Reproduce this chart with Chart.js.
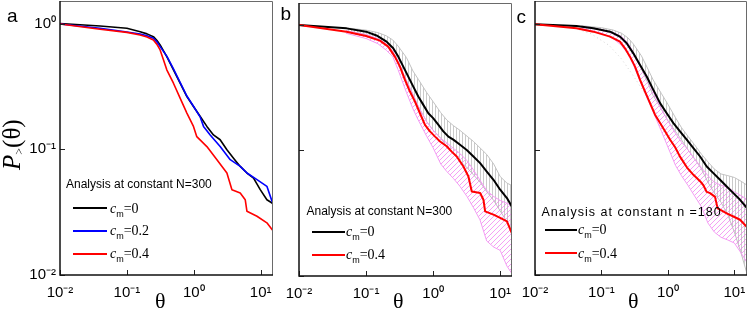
<!DOCTYPE html>
<html><head><meta charset="utf-8">
<script src="https://cdn.jsdelivr.net/npm/chart.js@4.4.1/dist/chart.umd.min.js"></script>
<style>
html,body{margin:0;padding:0;background:#fff;}
#wrap{position:relative;width:748px;height:312px;overflow:hidden;background:#fff;}
canvas{position:absolute;left:0;top:0;}
.t{position:absolute;white-space:nowrap;line-height:1;color:#000;z-index:5;}
.sans{font-family:"Liberation Sans",Arial,sans-serif;}
.serif{font-family:"Liberation Serif","Times New Roman",serif;}
.lg{position:absolute;height:2px;z-index:5;}
.sub{font-family:"Liberation Sans",Arial,sans-serif;font-size:9px;position:relative;top:4px;font-style:normal;}
</style></head>
<body><div id="wrap">
<canvas id="ca" width="748" height="312"></canvas>
<canvas id="cb" width="748" height="312"></canvas>
<canvas id="cc" width="748" height="312"></canvas>

<div class="t sans" style="left:7px;top:5.6px;font-size:19px;">a</div>
<div class="t sans" style="left:280.5px;top:3.9px;font-size:19px;">b</div>
<div class="t sans" style="left:516.5px;top:7.2px;font-size:19px;">c</div>

<div class="t serif" style="left:-1px;top:170px;font-size:25px;transform:rotate(-90deg);transform-origin:left top;"><i>P</i><span style="font-size:12px;position:relative;top:3px;">&gt;</span>(θ)</div>

<div class="t serif" style="left:155px;top:289.6px;font-size:22px;">θ</div>
<div class="t serif" style="left:393px;top:289.6px;font-size:22px;">θ</div>
<div class="t serif" style="left:628px;top:289.6px;font-size:22px;">θ</div>

<div class="t sans" style="left:66px;top:178.3px;font-size:12px;">Analysis at constant N=300</div>
<div class="t sans" style="left:306.5px;top:205.3px;font-size:12px;">Analysis at constant N=300</div>
<div class="t sans" style="left:541.5px;top:205.8px;font-size:12.5px;letter-spacing:1px;">Analysis at constant n =180</div>

<div class="lg" style="left:73px;top:207.3px;width:34px;background:#000;"></div>
<div class="t serif" style="left:110px;top:201.6px;font-size:14px;"><i>c</i><span class="sub">m</span>=0</div>
<div class="lg" style="left:73px;top:229.7px;width:34px;background:#0000ff;"></div>
<div class="t serif" style="left:110px;top:224px;font-size:14px;"><i>c</i><span class="sub">m</span>=0.2</div>
<div class="lg" style="left:73px;top:253px;width:34px;background:#ff0000;"></div>
<div class="t serif" style="left:110px;top:247.3px;font-size:14px;"><i>c</i><span class="sub">m</span>=0.4</div>

<div class="lg" style="left:311.7px;top:230.7px;width:33.3px;background:#000;"></div>
<div class="t serif" style="left:346px;top:225px;font-size:14px;"><i>c</i><span class="sub">m</span>=0</div>
<div class="lg" style="left:311.7px;top:254px;width:33.3px;background:#ff0000;"></div>
<div class="t serif" style="left:346px;top:248.3px;font-size:14px;"><i>c</i><span class="sub">m</span>=0.4</div>

<div class="lg" style="left:545px;top:229px;width:31.7px;background:#000;"></div>
<div class="t serif" style="left:578px;top:223.3px;font-size:14px;"><i>c</i><span class="sub">m</span>=0</div>
<div class="lg" style="left:545px;top:252.3px;width:31.7px;background:#ff0000;"></div>
<div class="t serif" style="left:578px;top:246.6px;font-size:14px;"><i>c</i><span class="sub">m</span>=0.4</div>
</div>
<script>
// ---------- tick labels ----------
const X_TICKS = [0.01, 0.1, 1, 10];
const X_TICK_LABELS = ['10⁻²', '10⁻¹', '10⁰', '10¹'];
const Y_TICKS = [0.01, 0.1, 1];
const Y_TICK_LABELS = ['10⁻²', '10⁻¹', '10⁰'];

// ---------- panel a (constant N=300) ----------
const aTheta0 = [0.01, 0.0397, 0.1, 0.158, 0.2, 0.249, 0.28, 0.314, 0.395, 0.497, 0.625, 0.789, 0.99, 1.25, 1.57, 1.97, 2.48, 3.13, 3.93, 4.95, 6.24, 7.83, 9.86, 12.4, 14.8, 15.6];
const aP0     = [1.0, 0.955, 0.916, 0.861, 0.827, 0.786, 0.735, 0.675, 0.545, 0.428, 0.335, 0.262, 0.219, 0.182, 0.152, 0.130, 0.119, 0.099, 0.085, 0.073, 0.0647, 0.059, 0.0477, 0.0397, 0.0374, 0.036];
const aTheta2 = [0.01, 0.0397, 0.1, 0.158, 0.2, 0.249, 0.28, 0.314, 0.395, 0.497, 0.625, 0.789, 0.99, 1.25, 1.40, 1.76, 2.48, 3.51, 4.95, 6.24, 8.81, 12.4, 14.8, 15.6];
const aP2     = [0.99, 0.916, 0.856, 0.826, 0.80, 0.763, 0.715, 0.655, 0.55, 0.435, 0.34, 0.265, 0.22, 0.18, 0.152, 0.130, 0.105, 0.0826, 0.073, 0.0647, 0.0573, 0.0507, 0.0385, 0.037];
const aTheta4 = [0.01, 0.0397, 0.1, 0.158, 0.2, 0.249, 0.28, 0.314, 0.35, 0.395, 0.497, 0.625, 0.789, 0.99, 1.11, 1.57, 2.22, 3.13, 3.72, 4.95, 5.88, 6.24, 8.81, 12.4, 14.8, 15.6];
const aP4     = [0.99, 0.90, 0.85, 0.81, 0.78, 0.74, 0.685, 0.616, 0.52, 0.428, 0.335, 0.255, 0.194, 0.152, 0.126, 0.105, 0.0826, 0.0647, 0.0477, 0.0449, 0.0397, 0.0321, 0.0293, 0.026, 0.023, 0.0225];

// ---------- panel b (constant N=300, with spread) ----------
const bTheta0 = [0.01, 0.051, 0.1, 0.143, 0.202, 0.254, 0.302, 0.359, 0.426, 0.506, 0.601, 0.714, 0.848, 1.0, 1.2, 1.42, 1.69, 2.0, 2.52, 3.17, 3.99, 5.02, 6.31, 7.94, 10, 12.6, 14.9, 15.6];
const bP0     = [1.0, 0.94, 0.885, 0.825, 0.737, 0.652, 0.56, 0.466, 0.388, 0.323, 0.269, 0.231, 0.198, 0.181, 0.16, 0.142, 0.129, 0.122, 0.111, 0.101, 0.0896, 0.0793, 0.068, 0.0584, 0.0487, 0.0418, 0.0358, 0.035];
const bTheta4 = [0.01, 0.051, 0.1, 0.161, 0.214, 0.269, 0.32, 0.38, 0.451, 0.536, 0.636, 0.756, 0.897, 1.07, 1.27, 1.59, 1.89, 2.25, 2.83, 3.36, 3.77, 5.02, 5.63, 5.96, 7.94, 10, 12.6, 14.9, 15.6];
const bP4     = [1.0, 0.885, 0.818, 0.75, 0.673, 0.56, 0.466, 0.365, 0.295, 0.245, 0.198, 0.16, 0.142, 0.129, 0.118, 0.108, 0.098, 0.0896, 0.0746, 0.0621, 0.0472, 0.0458, 0.0405, 0.0327, 0.0308, 0.029, 0.0272, 0.022, 0.021];
const bandTheta = [0.05, 0.1, 0.15, 0.2, 0.25, 0.3, 0.4, 0.5, 0.6, 0.8, 1, 1.3, 1.6, 2, 2.5, 3.2, 4, 5, 6.3, 8, 10, 12.6, 15.6];
const bGrayUp = [0.95, 0.91, 0.87, 0.82, 0.76, 0.68, 0.55, 0.43, 0.37, 0.29, 0.245, 0.2, 0.175, 0.158, 0.145, 0.13, 0.118, 0.105, 0.093, 0.078, 0.062, 0.055, 0.052];
const bGrayLo = [0.90, 0.84, 0.77, 0.69, 0.6, 0.5, 0.36, 0.28, 0.225, 0.17, 0.145, 0.125, 0.108, 0.095, 0.083, 0.073, 0.064, 0.056, 0.047, 0.04, 0.033, 0.027, 0.022];
const bPinkUp = [0.90, 0.84, 0.78, 0.71, 0.62, 0.52, 0.36, 0.28, 0.225, 0.17, 0.145, 0.125, 0.115, 0.104, 0.095, 0.083, 0.07, 0.058, 0.048, 0.043, 0.04, 0.038, 0.036];
const bPinkLo = [0.86, 0.78, 0.71, 0.63, 0.56, 0.44, 0.29, 0.215, 0.175, 0.13, 0.105, 0.078, 0.068, 0.06, 0.052, 0.043, 0.035, 0.028, 0.019, 0.017, 0.016, 0.012, 0.0101];

// ---------- panel c (constant n=180, with spread) ----------
const cTheta0 = [0.01, 0.042, 0.0755, 0.135, 0.19, 0.24, 0.302, 0.381, 0.48, 0.604, 0.762, 0.96, 1.21, 1.52, 1.92, 2.42, 3.05, 3.84, 4.83, 6.09, 7.67, 9.66, 12.2, 15.6];
const cP0     = [1.0, 0.97, 0.929, 0.874, 0.798, 0.706, 0.587, 0.474, 0.383, 0.30, 0.235, 0.195, 0.163, 0.14, 0.12, 0.103, 0.0882, 0.0734, 0.065, 0.0575, 0.0509, 0.045, 0.0398, 0.034];
const cTheta4 = [0.01, 0.042, 0.0755, 0.135, 0.19, 0.226, 0.269, 0.32, 0.381, 0.453, 0.538, 0.64, 0.762, 0.906, 1.08, 1.28, 1.52, 1.94, 2.42, 3.05, 3.42, 3.84, 4.31, 5.12, 5.6, 6.09, 7.67, 9.66, 12.2, 15.6];
const cP4     = [1.0, 0.929, 0.874, 0.798, 0.728, 0.644, 0.552, 0.46, 0.36, 0.29, 0.235, 0.19, 0.163, 0.14, 0.12, 0.105, 0.088, 0.072, 0.063, 0.056, 0.052, 0.046, 0.045, 0.042, 0.034, 0.0332, 0.031, 0.0293, 0.0276, 0.024];
const cGrayUp = [0.975, 0.94, 0.9, 0.85, 0.78, 0.70, 0.56, 0.44, 0.36, 0.28, 0.23, 0.18, 0.15, 0.128, 0.11, 0.092, 0.08, 0.07, 0.064, 0.062, 0.06, 0.056, 0.052];
const cGrayLo = [0.95, 0.9, 0.84, 0.77, 0.68, 0.58, 0.44, 0.34, 0.27, 0.21, 0.17, 0.14, 0.12, 0.1, 0.085, 0.07, 0.055, 0.045, 0.038, 0.03, 0.022, 0.015, 0.0101];
const cPinkUp = [0.96, 0.91, 0.86, 0.8, 0.71, 0.6, 0.45, 0.36, 0.29, 0.21, 0.17, 0.135, 0.115, 0.1, 0.085, 0.072, 0.062, 0.055, 0.052, 0.05, 0.046, 0.043, 0.04];
const cPinkLo = [0.93, 0.85, 0.77, 0.68, 0.58, 0.48, 0.33, 0.25, 0.2, 0.14, 0.105, 0.075, 0.062, 0.052, 0.043, 0.035, 0.026, 0.022, 0.02, 0.019, 0.018, 0.015, 0.0125];
const cDotTheta = [0.04, 0.07, 0.13, 0.2, 0.3, 0.45, 0.7, 1.0];
const cDotP     = [0.93, 0.84, 0.68, 0.53, 0.39, 0.28, 0.19, 0.14];

// ---------- helpers ----------
function pts(xs, ys) { return xs.map((x, i) => ({x: x, y: ys[i]})); }
function labeler(vals, labels) {
  return function (v) {
    const i = vals.findIndex(t => Math.abs(Math.log10(t) - Math.log10(v)) < 1e-6);
    return i < 0 ? null : labels[i];
  };
}
function hatch(ctx, kind) {
  const c = document.createElement('canvas');
  const g = c.getContext('2d');
  if (kind === 'v') {
    c.width = 3; c.height = 4;
    g.fillStyle = 'rgba(150,150,150,0.5)';
    g.fillRect(0, 0, 1, 4);
  } else {
    c.width = 5; c.height = 5;
    g.strokeStyle = 'rgba(240,120,240,0.7)';
    g.lineWidth = 1;
    g.beginPath();
    g.moveTo(0, 5); g.lineTo(5, 0);
    g.moveTo(-1, 1); g.lineTo(1, -1);
    g.moveTo(4, 6); g.lineTo(6, 4);
    g.stroke();
  }
  return ctx.createPattern(c, 'repeat');
}
const framePlugin = {
  id: 'frame',
  afterDraw(chart) {
    const ctx = chart.ctx, a = chart.chartArea, xs = chart.scales.x, ys = chart.scales.y;
    ctx.save();
    ctx.strokeStyle = '#222';
    ctx.lineWidth = 1;
    function mant(v) {
      const e = Math.floor(Math.log10(v) + 1e-9);
      const m = v / Math.pow(10, e);
      const r = Math.round(m);
      return Math.abs(m - r) < 1e-6 ? r : 0;
    }
    ctx.beginPath();
    xs.ticks.forEach(t => {
      const m = mant(t.value); if (!m) return;
      const px = Math.round(xs.getPixelForValue(t.value)) + 0.5;
      const len = m === 1 ? 5 : 3;
      ctx.moveTo(px, a.bottom); ctx.lineTo(px, a.bottom - len);
    });
    ys.ticks.forEach(t => {
      const m = mant(t.value); if (!m) return;
      const py = Math.round(ys.getPixelForValue(t.value)) + 0.5;
      const len = m === 1 ? 5 : 3;
      ctx.moveTo(a.left, py); ctx.lineTo(a.left + len, py);
    });
    ctx.stroke();
    ctx.strokeStyle = '#6a6a6a';
    ctx.lineWidth = 1;
    ctx.beginPath();
    ctx.moveTo(a.left, a.top + 0.5); ctx.lineTo(a.right - 0.5, a.top + 0.5); ctx.lineTo(a.right - 0.5, a.bottom);
    ctx.stroke();
    ctx.strokeStyle = '#111';
    ctx.lineWidth = 1.5;
    ctx.beginPath();
    ctx.moveTo(a.left, a.top); ctx.lineTo(a.left, a.bottom); ctx.lineTo(a.right, a.bottom);
    ctx.stroke();
    ctx.restore();
  }
};

function makePanel(id, box, datasets, showY) {
  const font = {family: '"Liberation Sans", Arial, sans-serif', size: 15};
  return new Chart(document.getElementById(id), {
    type: 'line',
    data: {datasets: datasets},
    options: {
      responsive: false, animation: false, devicePixelRatio: 1,
      layout: {padding: {left: 0, right: 748 - box.right, top: box.top, bottom: 0}},
      plugins: {legend: {display: false}, tooltip: {enabled: false}},
      elements: {point: {radius: 0}, line: {tension: 0, borderJoinStyle: 'round'}},
      scales: {
        x: {
          type: 'logarithmic', min: 0.01, max: box.xmax,
          grid: {display: false, drawTicks: false}, border: {display: false},
          ticks: {autoSkip: false, maxRotation: 0, padding: 9, color: '#000', font: font, callback: labeler(X_TICKS, X_TICK_LABELS)},
          afterFit: s => { s.height = 312 - box.bottom; s.paddingLeft = 0; s.paddingRight = 0; }
        },
        y: {
          type: 'logarithmic', min: 0.01, max: box.ymax,
          grid: {display: false, drawTicks: false}, border: {display: false},
          ticks: {display: showY, autoSkip: false, padding: 4, color: '#000', font: font, callback: labeler(Y_TICKS, Y_TICK_LABELS)},
          afterFit: s => { s.width = box.left; s.paddingTop = 0; s.paddingBottom = 0; }
        }
      }
    },
    plugins: [framePlugin]
  });
}

function line(xs, ys, color, w, order) {
  return {data: pts(xs, ys), borderColor: color, borderWidth: w, fill: false, order: order};
}
function band(xs, lo, up, color, pattern, order) {
  return [
    {data: pts(xs, lo), borderColor: color, borderWidth: 1, fill: false, order: order},
    {data: pts(xs, up), borderColor: color, borderWidth: 1, fill: '-1', backgroundColor: pattern, order: order}
  ];
}

// panel a
makePanel('ca', {left: 60, right: 273, top: 1, bottom: 275, xmax: 15.3, ymax: 1.51}, [
  line(aTheta4, aP4, '#ff0000', 1.6, 0),
  line(aTheta2, aP2, '#0000ff', 1.6, 0),
  line(aTheta0, aP0, '#000000', 1.6, 0)
], true);

// panel b
const ctxB = document.getElementById('cb').getContext('2d');
makePanel('cb', {left: 299, right: 512, top: 3, bottom: 276, xmax: 15.0, ymax: 1.497}, [
  line(bTheta4, bP4, '#ff0000', 2, 0),
  line(bTheta0, bP0, '#000000', 2, 0),
  ...band(bandTheta, bGrayLo, bGrayUp, '#c2c2c2', hatch(ctxB, 'v'), 2),
  ...band(bandTheta, bPinkLo, bPinkUp, '#f39cf3', hatch(ctxB, 'd'), 1)
], false);

// panel c
const ctxC = document.getElementById('cc').getContext('2d');
makePanel('cc', {left: 535, right: 747, top: 1, bottom: 275, xmax: 15.5, ymax: 1.535}, [
  line(cTheta4, cP4, '#ff0000', 2, 0),
  line(cTheta0, cP0, '#000000', 2, 0),
  ...band(bandTheta, cGrayLo, cGrayUp, '#c2c2c2', hatch(ctxC, 'v'), 2),
  ...band(bandTheta, cPinkLo, cPinkUp, '#f39cf3', hatch(ctxC, 'd'), 1),
  {data: pts(cDotTheta, cDotP), borderColor: '#d4d4d4', borderWidth: 1, borderDash: [1, 3], fill: false, order: 3}
], false);
</script>
</body></html>
